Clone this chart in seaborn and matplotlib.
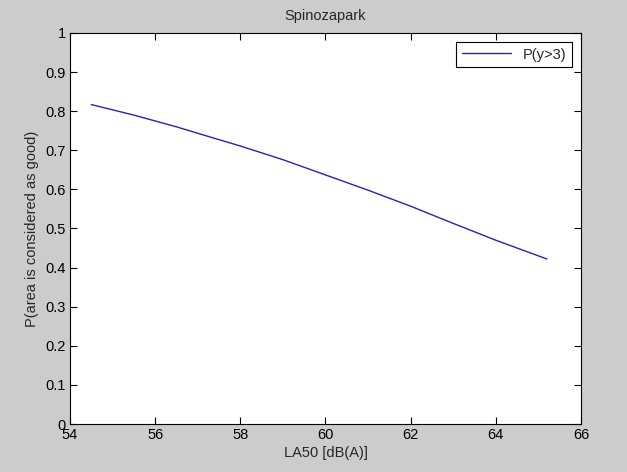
import pandas as pd
import matplotlib
matplotlib.use("Agg")
import matplotlib.pyplot as plt
import seaborn as sns

# Values
la50 = [54.5, 55.5, 56.5, 57.2, 58.0, 59.0, 60.0, 61.0, 62.0, 63.0, 64.0, 65.2]
p_good = [0.817, 0.790, 0.760, 0.737, 0.711, 0.676, 0.637, 0.598, 0.557, 0.513, 0.470, 0.422]
x_ticks = [54, 56, 58, 60, 62, 64, 66]
y_ticks = [0, 0.1, 0.2, 0.3, 0.4, 0.5, 0.6, 0.7, 0.8, 0.9, 1]

df = pd.DataFrame({"LA50": la50, "P": p_good})

sns.set_style("ticks")
plt.rcParams["font.family"] = ["Liberation Sans", "DejaVu Sans"]
fs = 10.5

fig = plt.figure(figsize=(6.27, 4.72), dpi=100, facecolor="#cccccc")
ax = fig.add_axes([70 / 627, 48 / 472, 511 / 627, 391 / 472])
ax.set_facecolor("white")

sns.lineplot(data=df, x="LA50", y="P", ax=ax, color="#2626a8", linewidth=1.0, label="P(y>3)")

ax.set_xlim(54, 66)
ax.set_ylim(0, 1)
ax.set_xticks(x_ticks)
ax.set_yticks(y_ticks)
ax.set_yticklabels([f"{v:g}" for v in y_ticks])
ax.tick_params(direction="in", length=5, width=0.8, top=True, right=True, colors="black", labelsize=fs, pad=3)
for s in ax.spines.values():
    s.set_visible(True)
    s.set_color("black")
    s.set_linewidth(0.8)

ax.set_xlabel("LA50 [dB(A)]", fontsize=fs, labelpad=3)
ax.set_ylabel("P(area is considered as good)", fontsize=fs, labelpad=5)
ax.set_title("Spinozapark", fontsize=fs, pad=9)

leg = ax.legend(loc="upper right", fancybox=False, frameon=True, edgecolor="black",
                framealpha=1, handlelength=3.4, borderaxespad=0.6, fontsize=fs)
leg.get_frame().set_linewidth(0.8)

fig.savefig("out.png", dpi=100, facecolor=fig.get_facecolor())
